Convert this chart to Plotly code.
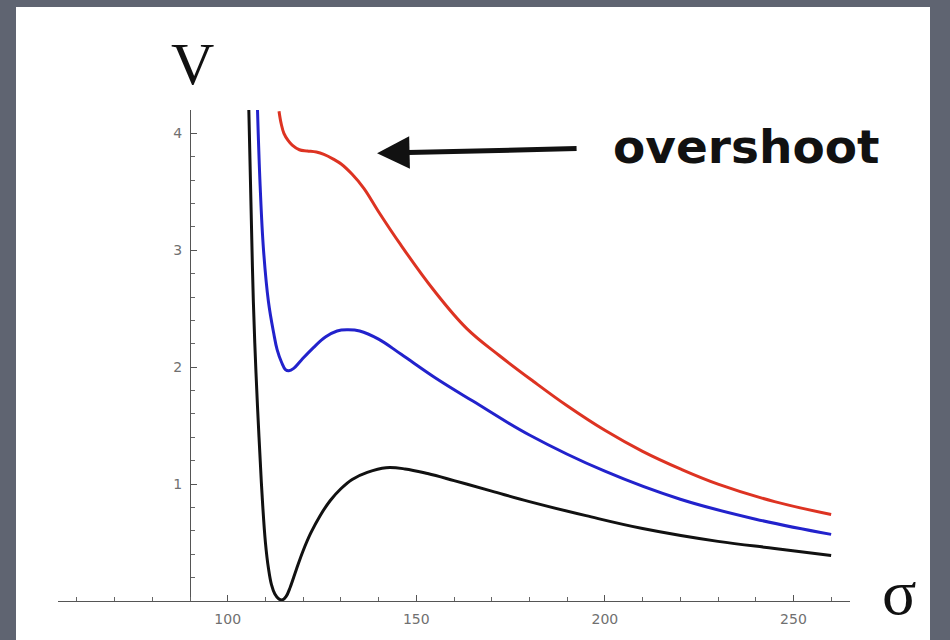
import plotly.graph_objects as go

# ---- data ----
black_sigma = [105.6, 106.2, 106.8, 107.5, 108.3, 109.2, 110.0, 110.8, 111.6, 112.5, 113.5, 114.5,
               115.5, 116.6, 118.2, 120.0, 122.0, 124.5, 127.2, 130.0, 133.0, 137.0, 142.0,
               147.0, 153.0, 160.0, 170.0, 180.0, 195.0, 210.0, 230.0, 245.0, 260.0]
black_V = [4.20, 3.35, 2.56, 1.95, 1.40, 0.86, 0.50, 0.28, 0.14, 0.06, 0.02, 0.01,
           0.04, 0.12, 0.27, 0.43, 0.58, 0.73, 0.86, 0.96, 1.04, 1.10, 1.14,
           1.13, 1.09, 1.03, 0.94, 0.85, 0.73, 0.62, 0.51, 0.45, 0.39]

blue_sigma = [107.9, 108.6, 109.5, 110.8, 112.2, 113.1, 114.3, 115.3, 116.2, 117.5, 119.5,
              122.8, 126.0, 129.0, 131.7, 135.0, 140.0, 146.0, 155.0, 165.0, 180.0,
              200.0, 220.0, 240.0, 260.0]
blue_V = [4.20, 3.55, 3.00, 2.56, 2.29, 2.15, 2.04, 1.98, 1.97, 1.99, 2.06,
          2.17, 2.26, 2.31, 2.32, 2.31, 2.24, 2.11, 1.91, 1.71, 1.42,
          1.11, 0.87, 0.70, 0.57]

red_sigma = [113.6, 114.2, 114.9, 116.0, 117.1, 119.0, 121.1, 123.5, 125.5, 128.0, 130.0,
             133.0, 136.1, 140.0, 145.8, 154.6, 163.4, 172.0, 181.0, 190.0, 200.0, 210.0,
             220.0, 230.0, 245.0, 260.0]
red_V = [4.19, 4.08, 4.00, 3.94, 3.90, 3.86, 3.85, 3.84, 3.82, 3.78, 3.74,
         3.65, 3.53, 3.33, 3.05, 2.66, 2.33, 2.10, 1.88, 1.67, 1.46, 1.28,
         1.13, 1.00, 0.85, 0.74]

x_tick_vals = [100, 150, 200, 250]
x_tick_text = ["100", "150", "200", "250"]
y_tick_vals = [1, 2, 3, 4]
y_tick_text = ["1", "2", "3", "4"]

# ---- figure ----
W, H = 950, 640
x_range = [55, 265]
y_range = [0, 4.2]
plot_left, plot_right = 58, 850
plot_top, plot_bottom = 110, 601
y_axis_at = 90

fig = go.Figure()
for xs, ys, col in [(black_sigma, black_V, "#111111"),
                    (blue_sigma, blue_V, "#2222cc"),
                    (red_sigma, red_V, "#dd3322")]:
    fig.add_trace(go.Scatter(x=xs, y=ys, mode="lines",
                             line=dict(color=col, width=3, shape="spline", smoothing=1.1),
                             showlegend=False, hoverinfo="skip"))

x_dom = [plot_left / W, plot_right / W]
y_dom = [1 - plot_bottom / H, 1 - plot_top / H]
yaxis_pos = (plot_left + (y_axis_at - x_range[0]) / (x_range[1] - x_range[0]) * (plot_right - plot_left)) / W

tickfont = dict(family="DejaVu Sans", size=14, color="#707070")

fig.update_layout(
    width=W, height=H,
    margin=dict(l=0, r=0, t=0, b=0),
    paper_bgcolor="#5f6471",
    plot_bgcolor="rgba(0,0,0,0)",
    xaxis=dict(domain=x_dom, range=x_range, anchor="y", showgrid=False, zeroline=False,
               showline=True, linecolor="#555555", linewidth=1,
               tickmode="array", tickvals=x_tick_vals, ticktext=x_tick_text,
               ticks="inside", ticklen=6, tickcolor="#555555", tickfont=tickfont,
               ticklabelstandoff=5,
               minor=dict(tickmode="linear", tick0=0, dtick=10, ticks="inside",
                          ticklen=4, tickcolor="#666666")),
    yaxis=dict(domain=y_dom, range=y_range, anchor="free", position=yaxis_pos,
               showgrid=False, zeroline=False,
               showline=True, linecolor="#555555", linewidth=1,
               tickmode="array", tickvals=y_tick_vals, ticktext=y_tick_text,
               ticks="inside", ticklen=6, tickcolor="#555555", tickfont=tickfont,
               ticklabelstandoff=5,
               minor=dict(tickmode="linear", tick0=0, dtick=0.2, ticks="inside",
                          ticklen=4, tickcolor="#666666")),
    shapes=[dict(type="rect", xref="paper", yref="paper", x0=16 / W, x1=930 / W,
                 y0=0, y1=1 - 7 / H, fillcolor="white", line=dict(width=0), layer="below")],
)

# labels
fig.add_annotation(text="V", xref="paper", yref="paper", x=192 / W, y=1 - 64 / H,
                   xanchor="center", yanchor="middle", showarrow=False,
                   font=dict(family="Liberation Serif", size=60, color="#111111"))
fig.add_annotation(text="σ", xref="paper", yref="paper", x=899 / W, y=1 - 592 / H,
                   xanchor="center", yanchor="middle", showarrow=False,
                   font=dict(family="Liberation Serif", size=64, color="#111111"))
fig.add_annotation(text="overshoot", xref="paper", yref="paper", x=746 / W, y=1 - 146 / H,
                   xanchor="center", yanchor="middle", showarrow=False,
                   font=dict(family="DejaVu Sans", size=47, color="#111111", weight="bold"))
# arrow
arrow_head = (139.6, 3.83)
arrow_tail = (192.9, 3.87)
fig.add_annotation(x=arrow_head[0], y=arrow_head[1], ax=arrow_tail[0], ay=arrow_tail[1],
                   xref="x", yref="y", axref="x", ayref="y", text="", showarrow=True,
                   arrowhead=2, arrowsize=1.3, arrowwidth=5, arrowcolor="#111111")

fig.write_html("out.html")
